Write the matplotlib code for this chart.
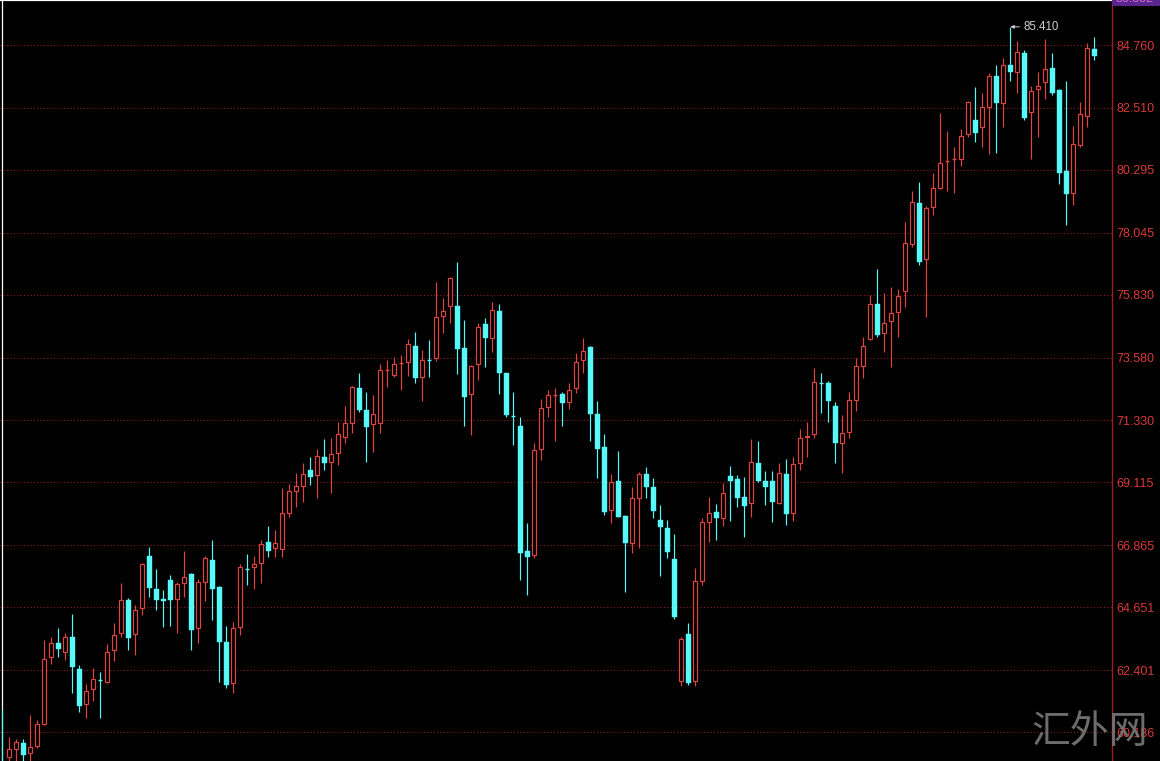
import matplotlib
matplotlib.use('Agg')
import matplotlib.pyplot as plt
from matplotlib.patches import Rectangle

# ---------------- data ----------------
start_index = -1
opens = [59.10, 59.30, 59.57, 59.79, 59.42, 59.70, 60.47, 62.88, 63.36, 63.06,
         63.57, 62.44, 61.19, 61.71, 62.07, 61.99, 63.12, 63.74, 64.91, 63.70,
         64.61, 66.49, 65.30, 64.93, 65.62, 64.94, 65.53, 65.83, 63.90, 65.56,
         66.34, 65.36, 63.39, 61.93, 63.93, 66.04, 66.10, 66.22, 66.97, 66.76,
         66.73, 68.03, 68.82, 68.99, 69.56, 69.38, 70.03, 69.83, 70.18, 70.73,
         71.23, 72.49, 71.70, 71.19, 71.23, 73.13, 72.96, 73.37, 73.41, 74.00,
         72.87, 73.53, 73.58, 75.08, 75.43, 75.42, 73.91, 72.27, 73.34, 74.77,
         74.27, 75.25, 73.02, 71.53, 71.13, 66.66, 66.52, 70.30, 71.80, 72.22,
         72.26, 71.98, 72.48, 73.49, 73.97, 71.55, 70.37, 68.13, 69.18, 67.92,
         66.94, 68.57, 69.40, 68.96, 67.77, 67.50, 66.36, 62.02, 63.68, 62.02,
         65.60, 67.69, 68.04, 67.83, 69.35, 69.24, 68.58, 68.37, 69.80, 69.15,
         69.16, 68.39, 69.41, 68.03, 69.80, 70.73, 70.84, 72.69, 72.66, 71.86,
         70.51, 70.93, 72.06, 73.29, 74.24, 75.50, 74.45, 74.89, 75.20, 75.97,
         77.64, 79.10, 77.09, 78.95, 79.66, 80.59, 80.65, 80.67, 81.58, 82.08,
         81.82, 82.55, 83.65, 82.70, 84.04, 83.81, 84.48, 82.35, 83.18, 83.45,
         83.93, 83.15, 80.25, 79.45, 81.18, 82.23, 84.61]
highs = [60.97, 60.02, 59.94, 59.94, 60.81, 60.61, 63.48, 63.60, 63.90, 63.72,
         64.41, 62.58, 61.90, 62.46, 62.32, 63.32, 64.07, 65.51, 64.98, 64.73,
         66.24, 66.81, 66.01, 65.26, 65.80, 65.56, 66.66, 65.86, 65.65, 66.48,
         67.05, 65.41, 63.98, 64.13, 66.20, 66.55, 66.49, 67.05, 67.55, 67.41,
         68.90, 69.06, 69.44, 69.80, 70.03, 70.30, 70.67, 70.69, 71.29, 71.86,
         72.56, 73.02, 72.34, 72.24, 73.35, 73.50, 73.60, 73.67, 74.23, 74.50,
         73.85, 74.21, 76.29, 75.70, 76.47, 77.01, 74.92, 73.31, 74.80, 74.98,
         75.58, 75.50, 73.04, 72.36, 71.46, 67.65, 70.53, 72.10, 72.42, 72.48,
         72.36, 72.68, 73.73, 74.27, 73.99, 72.03, 70.84, 69.42, 70.24, 67.95,
         68.94, 69.50, 69.68, 69.26, 68.31, 67.77, 67.27, 63.57, 64.07, 66.04,
         67.83, 68.60, 68.34, 69.10, 69.70, 69.38, 69.30, 70.67, 70.59, 69.52,
         69.52, 69.82, 69.95, 70.01, 71.02, 71.29, 73.22, 73.02, 72.75, 71.98,
         71.53, 72.34, 73.55, 74.30, 75.82, 76.75, 75.88, 76.11, 76.02, 78.44,
         79.54, 79.87, 79.00, 80.17, 82.32, 81.69, 81.12, 81.76, 82.77, 83.27,
         83.03, 83.75, 84.05, 84.28, 85.41, 84.91, 84.58, 83.29, 83.81, 84.96,
         84.46, 83.18, 83.47, 81.86, 82.71, 84.82, 85.04]
lows = [58.40, 58.97, 58.90, 58.90, 59.15, 59.61, 60.44, 62.61, 62.88, 62.76,
        61.57, 60.91, 60.68, 61.29, 60.70, 61.93, 62.74, 63.60, 63.12, 62.94,
        64.37, 65.00, 64.55, 63.95, 63.98, 63.72, 65.03, 63.12, 63.38, 64.87,
        64.19, 61.99, 61.75, 61.57, 63.66, 65.44, 65.30, 65.53, 66.46, 66.46,
        66.46, 67.89, 68.25, 68.40, 69.02, 68.54, 69.56, 68.72, 69.74, 70.53,
        70.87, 71.64, 69.83, 70.21, 70.87, 72.54, 72.90, 72.42, 72.92, 72.68,
        72.04, 72.89, 73.47, 74.47, 74.83, 72.99, 71.14, 70.81, 72.78, 73.23,
        73.77, 72.28, 71.46, 70.45, 65.62, 65.09, 66.40, 69.92, 71.46, 70.61,
        71.14, 71.74, 72.32, 73.02, 70.61, 69.26, 67.95, 67.67, 67.87, 65.20,
        66.60, 66.76, 68.54, 67.83, 65.78, 66.40, 64.22, 61.83, 61.87, 61.83,
        65.44, 66.99, 67.05, 67.57, 67.75, 68.22, 67.17, 67.89, 69.14, 68.31,
        67.71, 68.34, 67.59, 67.75, 69.56, 70.03, 70.71, 71.61, 71.29, 69.80,
        69.46, 70.71, 71.67, 72.84, 74.21, 74.30, 73.79, 73.23, 74.30, 75.40,
        77.55, 76.89, 75.02, 78.68, 79.60, 79.55, 79.45, 80.43, 81.48, 81.30,
        81.12, 80.86, 80.89, 81.84, 83.48, 83.05, 82.08, 80.67, 81.48, 82.82,
        82.97, 79.78, 78.32, 79.04, 81.12, 81.84, 84.22]
closes = [58.70, 59.57, 59.82, 59.36, 59.64, 60.47, 62.79, 63.36, 63.14, 63.57,
          62.50, 61.13, 61.66, 62.07, 62.04, 63.04, 63.67, 64.90, 63.56, 64.54,
          66.20, 65.33, 64.91, 64.88, 64.91, 65.48, 65.74, 63.84, 65.56, 66.42,
          65.30, 63.42, 61.87, 63.90, 66.08, 66.00, 66.20, 66.91, 66.66, 66.94,
          68.01, 68.81, 68.99, 69.41, 69.30, 70.07, 69.82, 70.12, 70.85, 71.25,
          72.52, 71.70, 71.11, 71.56, 73.14, 73.15, 73.35, 73.40, 74.05, 72.84,
          73.49, 73.50, 75.02, 75.25, 76.41, 73.87, 72.18, 73.28, 74.66, 74.27,
          75.27, 73.02, 71.53, 71.50, 66.60, 66.46, 70.27, 71.76, 72.24, 72.24,
          71.97, 72.42, 73.43, 73.82, 71.55, 70.30, 68.07, 69.14, 67.89, 66.94,
          68.55, 69.41, 68.96, 68.10, 67.53, 66.64, 64.29, 63.50, 61.93, 65.60,
          67.69, 68.01, 67.85, 68.72, 69.18, 68.57, 68.28, 69.83, 69.18, 68.96,
          68.42, 69.44, 67.98, 69.76, 70.69, 70.79, 72.69, 72.66, 72.04, 70.51,
          70.87, 72.06, 73.28, 73.99, 75.50, 74.39, 74.81, 75.16, 75.78, 77.67,
          79.13, 77.01, 78.92, 79.63, 80.53, 80.61, 80.68, 81.50, 82.71, 81.62,
          82.53, 83.65, 82.70, 84.04, 83.81, 84.50, 82.14, 83.11, 83.29, 83.89,
          83.05, 80.19, 79.42, 81.21, 82.28, 84.64, 84.38]

tick_values = [60.186, 62.401, 64.651, 66.865, 69.115, 71.330,
               73.580, 75.830, 78.045, 80.295, 82.510, 84.760]
tick_labels = ['60.186', '62.401', '64.651', '66.865', '69.115', '71.330',
               '73.580', '75.830', '78.045', '80.295', '82.510', '84.760']
max_value = 85.410
max_label = '85.410'
top_label = '86.352'
watermark = '汇外网'

# ---------------- styling ----------------
W, H = 1160, 761
UP = '#e0443e'
DOWN = '#57f8f8'
GRID = '#8a1f1f'
AXIS = '#9a2020'
LABEL = '#d93a36'

fig = plt.figure(figsize=(W / 100, H / 100), dpi=100, facecolor='black')
ax = fig.add_axes([0, 0, 1112 / W, 1])
ax.set_facecolor('black')

n = len(opens)
xs = list(range(start_index, start_index + n))
ax.set_xlim((0 - 9.3) / 7, (1112 - 9.3) / 7)
ax.set_ylim(59.15, 86.37)

# grid
for v in tick_values:
    ax.axhline(v, color=GRID, lw=0.8, linestyle=(0, (1, 2)), zorder=0)

# left white border line (lies under first candle)
ax.axvline(start_index, color='white', lw=0.9, zorder=1)

bw = 4.3 / 7
lw = 0.85
for x, o, h, l, c in zip(xs, opens, highs, lows, closes):
    top, bot = max(o, c), min(o, c)
    if c >= o:
        col = UP
        if top - bot < 0.05:
            ax.vlines(x, l, h, color=col, lw=lw, zorder=3)
            ax.hlines(c, x - bw / 2, x + bw / 2, color=col, lw=lw * 1.2, zorder=3)
        else:
            ax.vlines(x, top, h, color=col, lw=lw, zorder=3)
            ax.vlines(x, l, bot, color=col, lw=lw, zorder=3)
            ax.add_patch(Rectangle((x - bw / 2, bot), bw, top - bot,
                                   facecolor='black', edgecolor=col, lw=lw, zorder=3))
    else:
        col = DOWN
        ax.vlines(x, l, h, color=col, lw=lw, zorder=3)
        if top - bot < 0.05:
            ax.hlines(c, x - bw / 2, x + bw / 2, color=col, lw=lw * 1.2, zorder=4)
        else:
            ax.add_patch(Rectangle((x - 5 / 14, bot), 5 / 7, top - bot,
                                   facecolor=col, edgecolor=col, lw=0.3, zorder=4))

# max annotation
imax = highs.index(max(highs))
xmax = xs[imax]
ax.annotate(max_label, xy=(xmax, max_value), xytext=(xmax + 1.9, max_value),
            color='#cfcfcf', fontsize=8.3, family='Liberation Sans', va='center',
            arrowprops=dict(arrowstyle='-|>,head_length=0.25,head_width=0.12',
                            color='#cfcfcf', lw=0.7, shrinkA=1, shrinkB=0),
            zorder=6)

# axes / ticks
ax.set_xticks([])
ax.yaxis.tick_right()
ax.set_yticks(tick_values)
ax.set_yticklabels(tick_labels)
ax.tick_params(axis='y', length=0, pad=3, labelcolor=LABEL, labelsize=9)
for t in ax.get_yticklabels():
    t.set_family('Liberation Sans')
for s in ['left', 'bottom']:
    ax.spines[s].set_visible(False)
ax.spines['right'].set_color(AXIS)
ax.spines['right'].set_linewidth(1.0)
ax.spines['top'].set_color('white')
ax.spines['top'].set_linewidth(1.6)

# top purple price box (cut off by the top edge, as in the reference)
fig.patches.append(Rectangle((1112 / W, 1 - 6 / H), 48 / W, 12 / H,
                             transform=fig.transFigure, facecolor='#5b2590',
                             edgecolor='none', zorder=5))
fig.text(1116 / W, 1 + 0.5 / H, top_label, color='#d868c8', fontsize=9,
         family='Liberation Sans', va='center', ha='left', zorder=6)

# watermark
fig.text(1090 / W, 1 - 732 / H, watermark, color='#808080', fontsize=28,
         family=['Noto Sans CJK SC', 'DejaVu Sans'], fontweight='light',
         ha='center', va='center', alpha=0.85, zorder=2)

fig.savefig('out.png', dpi=100, facecolor='black')
